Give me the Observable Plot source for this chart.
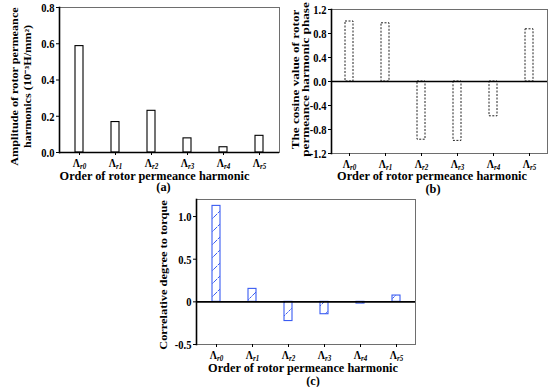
<!DOCTYPE html>
<html><head><meta charset="utf-8">
<script src="https://cdn.jsdelivr.net/npm/d3@7"></script>
<script src="https://cdn.jsdelivr.net/npm/@observablehq/plot@0.6"></script>
<style>
body{margin:0;background:#fff;}
#wrap{position:relative;width:548px;height:387px;overflow:hidden;background:#fff;}
#wrap svg{position:absolute;}
</style></head><body><div id="wrap"></div>
<script>
// ---- data ----
const categories = ["Λr0", "Λr1", "Λr2", "Λr3", "Λr4", "Λr5"];
const amplitude = [0.587, 0.168, 0.230, 0.078, 0.029, 0.092];
const cosPhase = [1.00, 0.97, -0.97, -0.99, -0.58, 0.87];
const correlation = [1.125, 0.152, -0.225, -0.145, -0.020, 0.074];
const ticksA = [0, 0.2, 0.4, 0.6, 0.8];
const ticksB = [-1.2, -0.8, -0.4, 0, 0.4, 0.8, 1.2];
const ticksC = [-0.5, 0, 0.5, 1.0];
const xTitle = "Order of rotor permeance harmonic";
const yTitleA = "Amplitude of rotor permeance\nharmonics (10⁻³H/mm²)";
const yTitleB = "The cosine value of rotor\npermeance harmonic phase";
const yTitleC = "Correlative degree to torque";
const panelLetters = ["(a)", "(b)", "(c)"];

const table = (vals) => categories.map((c, i) => ({c, v: vals[i]}));
const FONT = '"Liberation Serif", "Times New Roman", serif';
const SQ = 0.78; // horizontal squeeze of the reference lettering

function squeeze(t, sx, sy) {
  const tr = t.getAttribute("transform");
  if (tr) t.setAttribute("transform", tr + ` scale(${sx},${sy})`);
  else {
    const x = +t.getAttribute("x") || 0, y = +t.getAttribute("y") || 0;
    t.setAttribute("transform", `translate(${x},${y}) scale(${sx},${sy}) translate(${-x},${-y})`);
  }
}

function postProcess(svg) {
  svg.querySelectorAll('g[aria-label="x-axis tick label"] text').forEach(t => {
    const s = t.textContent;
    t.textContent = "";
    t.appendChild(document.createTextNode(s[0]));
    const ts = document.createElementNS("http://www.w3.org/2000/svg", "tspan");
    ts.setAttribute("font-style", "italic");
    ts.setAttribute("font-size", "9");
    ts.setAttribute("dy", "2.5");
    ts.textContent = s.slice(1);
    t.appendChild(ts);
    squeeze(t, SQ, 1);
  });
  svg.querySelectorAll('g[aria-label="y-axis tick label"] text').forEach(t => squeeze(t, SQ, 1));
  svg.querySelectorAll('g[aria-label="text"] text').forEach(t => {
    const tr = t.getAttribute("transform") || "";
    if (tr.includes("rotate")) squeeze(t, 1, SQ);
  });
}

function panel(o) {
  const txt = {text: d => d, textAnchor: "middle", lineAnchor: "middle", fontWeight: "bold"};
  const svg = Plot.plot({
    width: o.w, height: o.h,
    marginLeft: o.ml, marginRight: o.mr, marginTop: o.mt, marginBottom: o.mb,
    style: {fontFamily: FONT, fontWeight: "bold", fontSize: "12px", color: "#000", background: "transparent", overflow: "visible"},
    x: {domain: categories, paddingInner: 0.79, paddingOuter: 0.395},
    y: {domain: o.domain},
    marks: [
      Plot.frame({stroke: "#6e6e6e", strokeWidth: 1}),
      Plot.barY(table(o.vals), {x: "c", y: "v", ...o.bar}),
      Plot.ruleY([0], {stroke: "#000", strokeWidth: 1.6}),
      Plot.frame({anchor: "left", stroke: "#000", strokeWidth: 1.6}),
      Plot.axisY({ticks: o.ticks, tickFormat: o.fmt, tickSize: 3, tickPadding: 2, label: null, fontSize: 13.5}),
      Plot.axisX({tickSize: 3, tickPadding: o.xPad, label: null, fontSize: 13}),
      Plot.text([o.yTitle], {...txt, frameAnchor: "left", rotate: -90, dx: o.ytDx, dy: o.ytDy, lineHeight: o.ytLh, fontSize: o.ytFs}),
      Plot.text([xTitle], {...txt, frameAnchor: "bottom", dx: o.xtDx, dy: o.xtDy, fontSize: 12.3}),
      Plot.text([o.letter], {...txt, frameAnchor: "bottom", dx: o.lDx, dy: o.lDy, fontSize: 12.3})
    ]
  });
  svg.style.left = o.left + "px";
  svg.style.top = o.top + "px";
  postProcess(svg);
  return svg;
}

const wrap = document.getElementById("wrap");

wrap.appendChild(panel({
  vals: amplitude, domain: [0, 0.8], ticks: ticksA, fmt: d => d.toFixed(1),
  left: 0, top: 0, w: 282, h: 195, ml: 59, mr: 3, mt: 7, mb: 43, xPad: 2,
  bar: {fill: "#fff", stroke: "#000", strokeWidth: 1.1},
  yTitle: yTitleA, ytDx: -39, ytDy: 6.5, ytFs: 12.2, ytLh: 1.4,
  xtDx: -15, xtDy: 24, letter: panelLetters[0], lDx: -6, lDy: 34.5
}));

wrap.appendChild(panel({
  vals: cosPhase, domain: [-1.2, 1.2], ticks: ticksB, fmt: d => d.toFixed(1),
  left: 272, top: 0, w: 276, h: 195, ml: 59, mr: 1, mt: 9, mb: 42, xPad: 2,
  bar: {fill: "#fff", stroke: "#222", strokeWidth: 1, strokeDasharray: "2,1.5"},
  yTitle: yTitleB, ytDx: -31, ytDy: -2, ytFs: 13.2, ytLh: 1.0,
  xtDx: -7.5, xtDy: 22.5, letter: panelLetters[1], lDx: -6.5, lDy: 35.5
}));

const svgC = panel({
  vals: correlation, domain: [-0.5, 1.2], ticks: ticksC, fmt: d => d === 0 ? "0" : d.toFixed(1),
  left: 137, top: 190, w: 282, h: 197, ml: 59, mr: 4, mt: 9, mb: 43, xPad: 2,
  bar: {fill: "url(#hatchC)", stroke: "#3a5cf2", strokeWidth: 1.1},
  yTitle: yTitleC, ytDx: -33, ytDy: 3, ytFs: 12.4, ytLh: 1.0,
  xtDx: -3, xtDy: 23.5, letter: panelLetters[2], lDx: 7, lDy: 36.5
});
const NS = "http://www.w3.org/2000/svg";
const defs = document.createElementNS(NS, "defs");
const pat = document.createElementNS(NS, "pattern");
pat.setAttribute("id", "hatchC");
pat.setAttribute("patternUnits", "userSpaceOnUse");
pat.setAttribute("width", "13");
pat.setAttribute("height", "13");
const bg = document.createElementNS(NS, "rect");
bg.setAttribute("width", "13"); bg.setAttribute("height", "13"); bg.setAttribute("fill", "#fff");
pat.appendChild(bg);
for (const [x1, y1, x2, y2] of [[0, 13, 13, 0], [-1, 1, 1, -1], [12, 14, 14, 12]]) {
  const l = document.createElementNS(NS, "line");
  l.setAttribute("x1", x1); l.setAttribute("y1", y1); l.setAttribute("x2", x2); l.setAttribute("y2", y2);
  l.setAttribute("stroke", "#3a5cf2"); l.setAttribute("stroke-width", "1"); l.setAttribute("stroke-dasharray", "3,1");
  pat.appendChild(l);
}
defs.appendChild(pat);
svgC.insertBefore(defs, svgC.firstChild);
wrap.appendChild(svgC);
</script>
</body></html>
